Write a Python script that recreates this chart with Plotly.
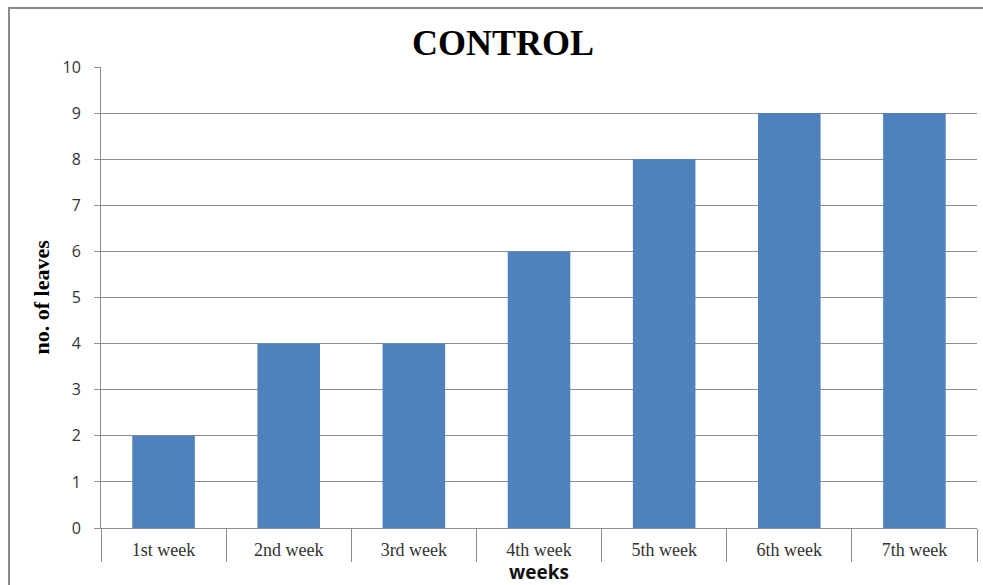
import plotly.graph_objects as go

weeks = ["1st week", "2nd week", "3rd week", "4th week", "5th week", "6th week", "7th week"]
leaves = [2, 4, 4, 6, 8, 9, 9]
y_ticks = list(range(0, 11))

W, H = 983, 585
L, R, T, B = 101, 6, 67, 57
pw, ph = W - L - R, H - T - B

fig = go.Figure(
    go.Bar(x=weeks, y=leaves, marker=dict(color="#4F81BD", line=dict(width=0)), width=0.5)
)

fig.update_layout(
    width=W, height=H,
    margin=dict(l=L, r=R, t=T, b=B),
    paper_bgcolor="white", plot_bgcolor="white",
    showlegend=False,
    bargap=0.5,
)

fig.update_xaxes(
    showline=True, linecolor="#8c8c8c", linewidth=1,
    ticks="outside", tickson="boundaries", ticklen=33, tickcolor="#8c8c8c", tickwidth=1,
    ticklabelstandoff=5,
    tickfont=dict(family="Liberation Serif", size=18, color="#333333"),
    title=dict(text="<b>weeks</b>", font=dict(family="Open Sans", size=19, color="#111111"), standoff=4),
    showgrid=False,
)
fig.update_yaxes(
    range=[0, 10], tickvals=y_ticks,
    showline=True, linecolor="#8c8c8c", linewidth=1,
    ticks="outside", ticklen=6, tickcolor="#8c8c8c",
    ticklabelstandoff=10,
    tickfont=dict(family="Open Sans", size=16, color="#333333"),
    showgrid=True, gridcolor="#8c8c8c", gridwidth=1,
    zeroline=False,
)

# chart title and y-axis label
fig.add_annotation(
    text="<b>CONTROL</b>", xref="paper", yref="paper",
    x=(503 - L) / pw, y=1 + (T - 43) / ph, xanchor="center", yanchor="middle",
    showarrow=False, font=dict(family="Liberation Serif", size=36, color="#000000"),
)
fig.add_annotation(
    text="<b>no. of leaves</b>", xref="paper", yref="paper",
    x=(41 - L) / pw, y=0.5, xanchor="center", yanchor="middle", textangle=-90,
    showarrow=False, font=dict(family="Liberation Serif", size=22, color="#000000"),
)

# outer chart frame
fig.add_shape(
    type="rect", xref="paper", yref="paper",
    x0=(9 - L) / pw, x1=1.2, y0=-0.3, y1=1 + (T - 8) / ph,
    line=dict(color="#8a8a8a", width=2), fillcolor="rgba(0,0,0,0)", layer="below",
)

fig.write_html("out.html")
